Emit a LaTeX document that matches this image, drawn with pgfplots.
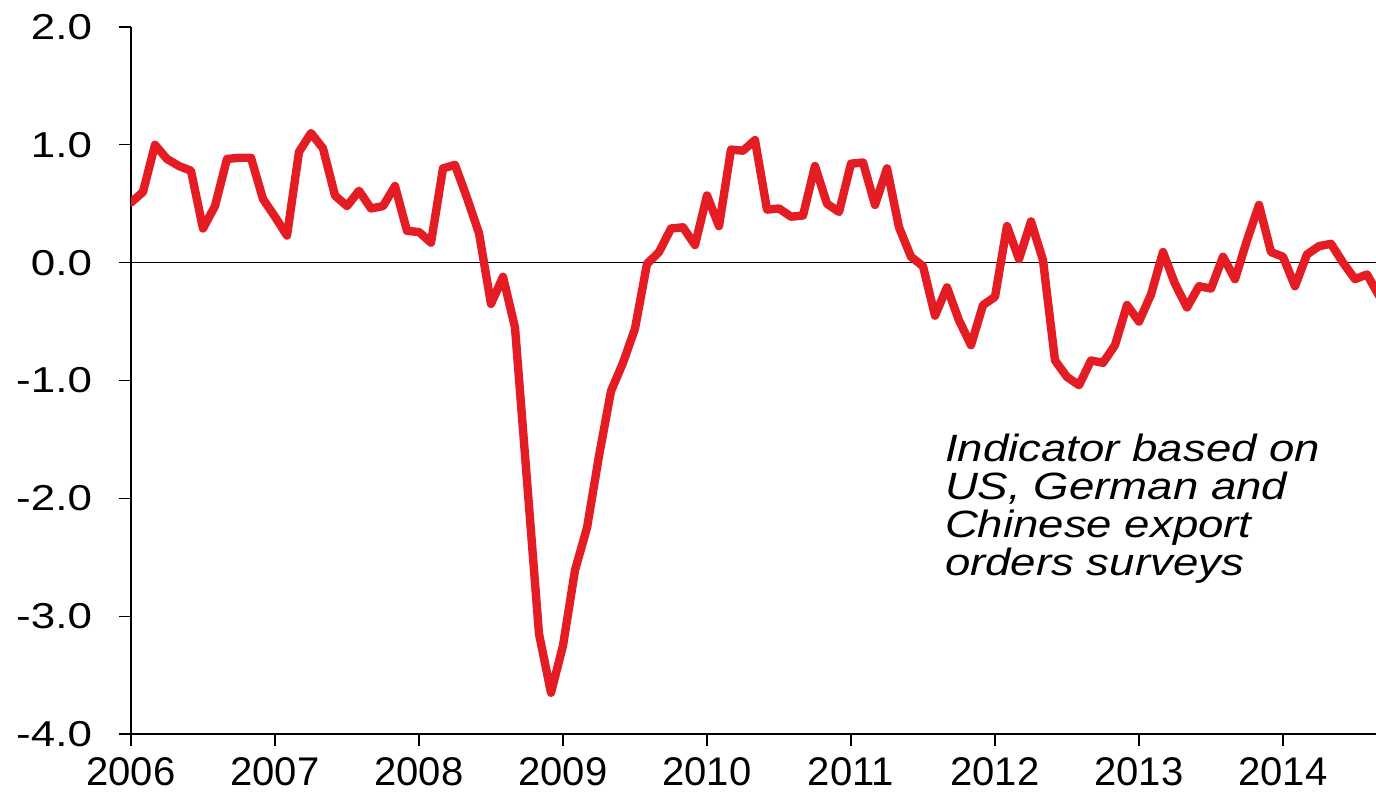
\documentclass[border=0pt]{standalone}
\usepackage{pgfplots}
\pgfplotsset{compat=1.18}
\usepackage{fontspec}
\setmainfont{Liberation Sans}
\definecolor{linered}{RGB}{228,28,36}
\begin{document}
\begin{tikzpicture}
\begin{axis}[
  scale only axis,
  width=622.5pt, height=353.5pt,
  xmin=0, xmax=103.75,
  ymin=-4, ymax=2,
  axis x line*=bottom,
  axis y line*=left,
  axis line style={-, black, line width=0.6pt},
  tick style={black, line width=0.6pt},
  tick align=outside,
  major tick length=6pt,
  xtick={0,12,24,36,48,60,72,84,96},
  xticklabels={2006,2007,2008,2009,2010,2011,2012,2013,2014},
  ytick={-4,-3,-2,-1,0,1,2},
  yticklabels={
    \scalebox{1.22}[1]{-4.0},\scalebox{1.22}[1]{-3.0},\scalebox{1.22}[1]{-2.0},
    \scalebox{1.22}[1]{-1.0},\scalebox{1.22}[1]{0.0},\scalebox{1.22}[1]{1.0},
    \scalebox{1.22}[1]{2.0}},
  x tick label style={font=\fontsize{20}{20}\selectfont, yshift=-2.5pt},
  y tick label style={font=\fontsize{18}{18}\selectfont, xshift=-10pt},
  clip=true,
]
\addplot[black, line width=0.6pt, forget plot] coordinates {(0,0) (104,0)};
\addplot[linered, line width=4.2pt, line join=round, line cap=round] coordinates {
(0,0.51) (1,0.60) (2,1.00) (3,0.88) (4,0.82) (5,0.78) (6,0.29) (7,0.48) (8,0.88) (9,0.89) (10,0.89) (11,0.54)
(12,0.39) (13,0.23) (14,0.94) (15,1.10) (16,0.97) (17,0.57) (18,0.48) (19,0.61) (20,0.46) (21,0.48) (22,0.65) (23,0.27)
(24,0.26) (25,0.17) (26,0.80) (27,0.83) (28,0.55) (29,0.25) (30,-0.35) (31,-0.12) (32,-0.55) (33,-1.85) (34,-3.15) (35,-3.65)
(36,-3.25) (37,-2.61) (38,-2.25) (39,-1.64) (40,-1.09) (41,-0.85) (42,-0.56) (43,-0.01) (44,0.09) (45,0.29) (46,0.30) (47,0.15)
(48,0.57) (49,0.31) (50,0.96) (51,0.95) (52,1.04) (53,0.45) (54,0.46) (55,0.39) (56,0.40) (57,0.82) (58,0.50) (59,0.43)
(60,0.84) (61,0.85) (62,0.49) (63,0.80) (64,0.30) (65,0.05) (66,-0.03) (67,-0.45) (68,-0.21) (69,-0.49) (70,-0.70) (71,-0.36)
(72,-0.29) (73,0.31) (74,0.03) (75,0.35) (76,0.02) (77,-0.83) (78,-0.97) (79,-1.04) (80,-0.83) (81,-0.85) (82,-0.70) (83,-0.36)
(84,-0.50) (85,-0.27) (86,0.09) (87,-0.18) (88,-0.38) (89,-0.20) (90,-0.22) (91,0.05) (92,-0.14) (93,0.19) (94,0.49) (95,0.09)
(96,0.05) (97,-0.20) (98,0.07) (99,0.14) (100,0.16) (101,0.00) (102,-0.14) (103,-0.10) (104,-0.28)
};
\node[anchor=north west, inner sep=0pt] at (axis cs:67.8,-1.45) {\scalebox{1.2}[1]{\fontsize{19}{17.5}\selectfont\itshape
  \begin{tabular}{@{}l@{}}Indicator based on\\US, German and\\Chinese export\\orders surveys\end{tabular}}};
\end{axis}
\pgfresetboundingbox
\path (current axis.south west) ++(-65.5pt,-30.5pt) rectangle ++(688pt,397.5pt);
\end{tikzpicture}
\end{document}
